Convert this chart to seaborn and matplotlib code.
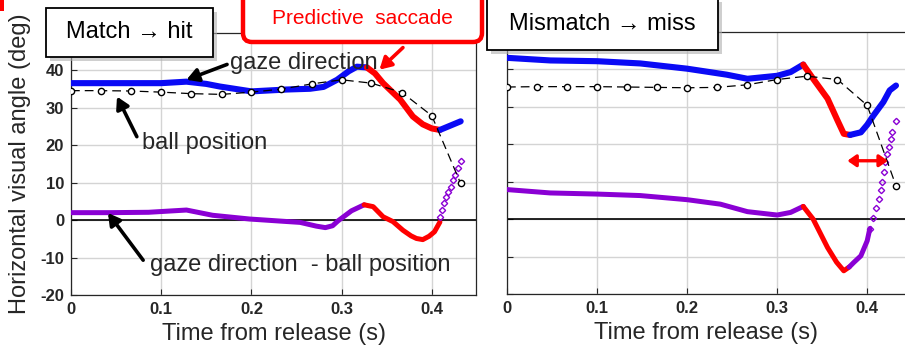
import matplotlib
matplotlib.use("Agg")
import matplotlib.pyplot as plt
import seaborn as sns
from matplotlib.patches import Rectangle, FancyBboxPatch
from matplotlib.transforms import IdentityTransform

# ---- data ----
ball_t = [0, 0.033, 0.067, 0.1, 0.133, 0.167, 0.2, 0.233, 0.267, 0.3, 0.333, 0.367, 0.4, 0.432]

# match -> hit
hit_ball = [34.6, 34.6, 34.5, 34.2, 33.8, 33.6, 34.2, 35.0, 36.4, 37.5, 36.6, 34.1, 27.9, 9.8]
hit_gaze_t1 = [0, 0.05, 0.1, 0.128, 0.15, 0.165, 0.2, 0.239, 0.265, 0.28, 0.295, 0.308, 0.317, 0.328]
hit_gaze_y1 = [36.6, 36.6, 36.6, 37.0, 36.4, 35.7, 34.4, 34.9, 35.1, 35.6, 37.5, 39.8, 41.0, 40.8]
hit_gaze_t2 = [0.328, 0.337, 0.346, 0.365, 0.379, 0.39, 0.4, 0.409]
hit_gaze_y2 = [40.8, 39.2, 36.6, 32.2, 27.7, 25.6, 24.5, 24.1]
hit_gaze_t3 = [0.409, 0.432]
hit_gaze_y3 = [24.1, 26.4]
hit_diff_t1 = [0, 0.043, 0.086, 0.128, 0.157, 0.198, 0.235, 0.254, 0.272, 0.282, 0.29, 0.296, 0.311, 0.325]
hit_diff_y1 = [2.0, 2.0, 2.1, 2.7, 1.3, 0.3, -0.3, -0.6, -1.6, -2.0, -1.5, -0.2, 2.5, 4.1]
hit_diff_t2 = [0.325, 0.335, 0.346, 0.357, 0.368, 0.377, 0.383, 0.39, 0.397, 0.403, 0.409]
hit_diff_y2 = [4.1, 3.6, 0.9, -0.4, -2.7, -4.2, -4.9, -5.2, -4.3, -3.1, -0.5]
hit_diff_t3 = [0.409, 0.411, 0.414, 0.416, 0.418, 0.421, 0.424, 0.426, 0.429, 0.432]
hit_diff_y3 = [0.9, 2.7, 4.5, 6.3, 7.6, 8.9, 10.7, 12.0, 13.9, 15.9]

# mismatch -> miss
miss_ball = [35.3, 35.4, 35.4, 35.4, 35.3, 35.2, 35.1, 35.2, 35.9, 37.3, 38.2, 37.3, 30.4, 8.9]
miss_gaze_t1 = [0, 0.048, 0.1, 0.148, 0.2, 0.244, 0.267, 0.3, 0.315, 0.329]
miss_gaze_y1 = [43.1, 42.4, 42.2, 41.6, 40.2, 38.6, 37.5, 38.3, 39.3, 41.3]
miss_gaze_t2 = [0.329, 0.34, 0.356, 0.367, 0.374, 0.381]
miss_gaze_y2 = [41.3, 37.5, 32.2, 26.4, 22.8, 22.5]
miss_gaze_t3 = [0.381, 0.393, 0.4, 0.407, 0.418, 0.425, 0.432]
miss_gaze_y3 = [22.5, 23.2, 25.2, 27.7, 31.3, 34.4, 35.7]
miss_diff_t1 = [0, 0.048, 0.1, 0.148, 0.2, 0.237, 0.267, 0.3, 0.315, 0.329]
miss_diff_y1 = [7.9, 7.0, 6.7, 6.3, 5.2, 4.0, 2.0, 1.1, 1.8, 3.4]
miss_diff_t2 = [0.329, 0.34, 0.356, 0.366, 0.374, 0.38]
miss_diff_y2 = [3.4, 0.0, -7.6, -11.5, -13.8, -12.8]
miss_diff_t3 = [0.38, 0.385, 0.393, 0.4, 0.403]
miss_diff_y3 = [-12.8, -11.6, -9.8, -5.8, -2.5]
miss_diff_t4 = [0.403, 0.407, 0.41, 0.413, 0.415, 0.417, 0.419, 0.42, 0.422, 0.424, 0.426, 0.428, 0.432]
miss_diff_y4 = [-2.5, 0.3, 3.0, 5.4, 7.7, 9.9, 12.6, 15.3, 17.3, 19.3, 21.3, 23.3, 26.1]

xticks = [0, 0.1, 0.2, 0.3, 0.4]
xticklabels = ["0", "0.1", "0.2", "0.3", "0.4"]
yticks = [-20, -10, 0, 10, 20, 30, 40]
yticklabels = ["-20", "-10", "0", "10", "20", "30", "40"]

BLUE = "#0a0af5"
RED = "#ff0000"
PURPLE = "#8a00d4"

sns.set_style("whitegrid", {"grid.color": "#d4d4d4"})
plt.rcParams["font.family"] = ["Liberation Sans", "DejaVu Sans"]

W, H = 905, 347
fig = plt.figure(figsize=(W / 100, H / 100), dpi=100)


def px_axes(x0, y0, x1, y1):
    return fig.add_axes([x0 / W, 1 - y1 / H, (x1 - x0) / W, (y1 - y0) / H])


axL = px_axes(71, 33, 476, 295)
axR = px_axes(507, 32, 905, 294)


def draw_panel(ax, ball, g1, g2, g3, d_line, d_dots, xmax, show_labels):
    ax.axhline(0, color="black", linewidth=1.2, zorder=1)
    # gaze direction
    for (t, y), c in zip([g1, g2, g3], [BLUE, RED, BLUE]):
        sns.lineplot(x=t, y=y, ax=ax, color=c, linewidth=4.4, sort=False,
                     estimator=None, zorder=3, solid_capstyle="round",
                     solid_joinstyle="round")
    # gaze - ball
    for (t, y), c in d_line:
        sns.lineplot(x=t, y=y, ax=ax, color=c, linewidth=3.6, sort=False,
                     estimator=None, zorder=3, solid_capstyle="round",
                     solid_joinstyle="round")
    t, y = d_dots
    sns.lineplot(x=t, y=y, ax=ax, color=PURPLE, linestyle="", marker="D",
                 markersize=3.2, markerfacecolor="none", markeredgecolor=PURPLE,
                 markeredgewidth=1.0, sort=False, estimator=None, zorder=3)
    # ball position
    sns.lineplot(x=ball_t, y=ball, ax=ax, color="black", linewidth=0.9,
                 linestyle=(0, (7, 4)), marker="o", markersize=4.5,
                 markerfacecolor="white", markeredgecolor="black",
                 markeredgewidth=1.0, sort=False, estimator=None, zorder=4)
    ax.set_xlim(0, xmax)
    ax.set_ylim(-20, 50)
    ax.set_xticks(xticks)
    ax.set_xticklabels(xticklabels)
    ax.set_yticks(yticks)
    ax.set_yticklabels(yticklabels if show_labels else [])
    ax.tick_params(direction="in", length=4, width=0.8, color="#262626",
                   labelsize=12, pad=5, labelcolor="#262626",
                   bottom=True, left=True)
    ax.grid(True, which="major", color="#d4d4d4", linewidth=1.0)
    ax.set_axisbelow(True)
    for lab in ax.get_xticklabels() + ax.get_yticklabels():
        lab.set_fontweight("bold")
    for s in ax.spines.values():
        s.set_color("#262626")
        s.set_linewidth(0.9)
    ax.set_xlabel("Time from release (s)", fontsize=17)
    ax.xaxis.set_label_coords(0.5, -0.15)
    ax.xaxis.label.set_va("center")
    ax.set_ylabel("")


draw_panel(axL, hit_ball,
           (hit_gaze_t1, hit_gaze_y1), (hit_gaze_t2, hit_gaze_y2), (hit_gaze_t3, hit_gaze_y3),
           [((hit_diff_t1, hit_diff_y1), PURPLE), ((hit_diff_t2, hit_diff_y2), RED)],
           (hit_diff_t3, hit_diff_y3), 0.449, True)
draw_panel(axR, miss_ball,
           (miss_gaze_t1, miss_gaze_y1), (miss_gaze_t2, miss_gaze_y2), (miss_gaze_t3, miss_gaze_y3),
           [((miss_diff_t1, miss_diff_y1), PURPLE), ((miss_diff_t2, miss_diff_y2), RED),
            ((miss_diff_t3, miss_diff_y3), PURPLE)],
           (miss_diff_t4, miss_diff_y4), 0.442, False)
axR.spines["right"].set_visible(False)

axL.set_ylabel("Horizontal visual angle (deg)", fontsize=17)
axL.yaxis.set_label_coords(-0.125, 0.5)
axL.yaxis.label.set_va("center")

# annotations on the left panel
arrow_k = dict(arrowstyle="-|>,head_length=0.7,head_width=0.4", color="black", lw=2.6,
               shrinkA=0, shrinkB=0)
axL.annotate("", xy=(0.128, 37.5), xytext=(0.173, 41.6), arrowprops=arrow_k, zorder=6)
axL.text(0.176, 42.1, "gaze direction", fontsize=17, ha="left", va="center", zorder=6)
axL.annotate("", xy=(0.051, 33.0), xytext=(0.073, 22.3), arrowprops=arrow_k, zorder=6)
axL.text(0.079, 20.6, "ball position", fontsize=17, ha="left", va="center", zorder=6)
axL.annotate("", xy=(0.041, 1.9), xytext=(0.08, -10.7), arrowprops=arrow_k, zorder=6)
axL.text(0.0875, -12.0, "gaze direction  - ball position", fontsize=17, ha="left",
         va="center", zorder=6)
red_k = dict(arrowstyle="-|>,head_length=0.7,head_width=0.4", color=RED, lw=2.6,
             shrinkA=0, shrinkB=0)
axL.annotate("", xy=(0.342, 40.2), xytext=(0.368, 46.1), arrowprops=red_k, zorder=6,
             annotation_clip=False)

# double arrow on the right panel
axR.annotate("", xy=(0.378, 15.6), xytext=(0.423, 15.6), zorder=6,
             arrowprops=dict(arrowstyle="<|-|>,head_length=0.5,head_width=0.35",
                             color=RED, lw=2.4, shrinkA=0, shrinkB=0))


# title boxes in pixel coordinates
def pix_box(x0, y0, x1, y1, text, edge="black", color="black", lw=1.3,
            rounded=False, shadow=True, fs=17):
    tr = IdentityTransform()
    if shadow:
        fig.add_artist(Rectangle((x0 + 4, H - y1 - 4), x1 - x0, y1 - y0, transform=tr,
                                 facecolor="#b0b0b0", edgecolor="none", alpha=0.6,
                                 zorder=9))
    if rounded:
        box = FancyBboxPatch((x0, H - y1), x1 - x0, y1 - y0,
                             boxstyle="round,pad=0,rounding_size=9", transform=tr,
                             facecolor="white", edgecolor=edge, linewidth=lw, zorder=10)
    else:
        box = Rectangle((x0, H - y1), x1 - x0, y1 - y0, transform=tr,
                        facecolor="white", edgecolor=edge, linewidth=lw, zorder=10)
    fig.add_artist(box)
    if text:
        fig.text((x0 + x1) / 2 / W, 1 - (y0 + y1) / 2 / H, text, ha="center",
                 va="center", fontsize=fs, color=color, zorder=11)


pix_box(46, 8, 213, 57, "Match \u2192 hit")
pix_box(487, -2, 718, 50, "Mismatch \u2192 miss")
pix_box(243, -12, 482, 42, "", edge=RED, lw=3.2, rounded=True, shadow=False)
fig.text(362 / W, 1 - 18 / H, "Predictive  saccade", ha="center", va="center",
         fontsize=15, color=RED, zorder=11)
fig.add_artist(Rectangle((0, H - 11), 4, 11, transform=IdentityTransform(),
                         facecolor=RED, edgecolor="none", zorder=10))

fig.savefig("out.png", dpi=100)
